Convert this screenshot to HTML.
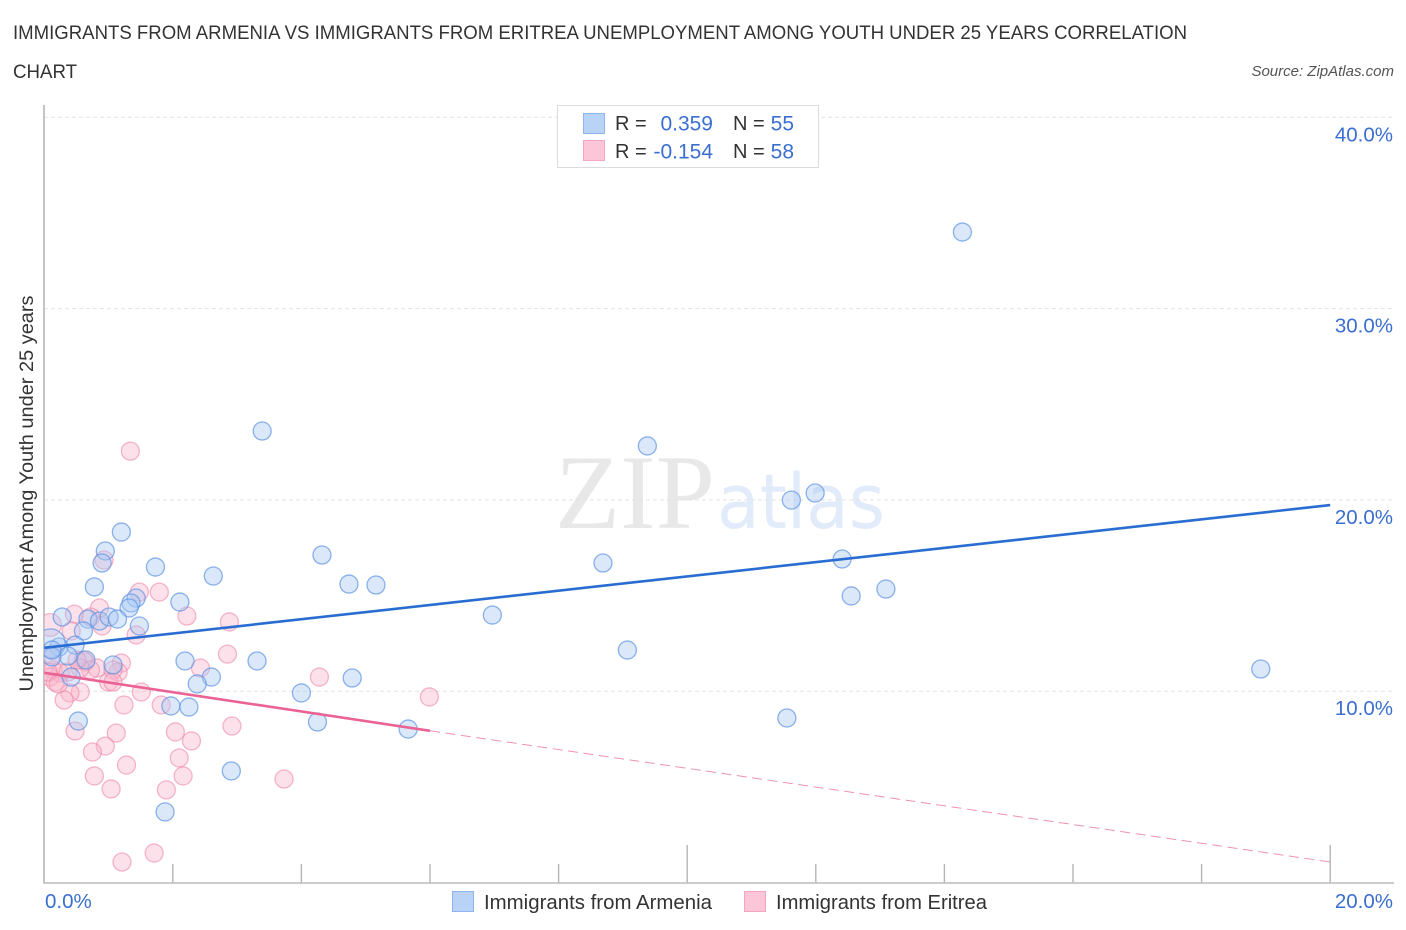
<!DOCTYPE html>
<html lang="en">
<head>
<meta charset="utf-8">
<title>Immigrants from Armenia vs Immigrants from Eritrea Unemployment Correlation Chart</title>
<style>
html,body{margin:0;padding:0;background:#fff;}
svg{display:block;font-family:"Liberation Sans",sans-serif;}
</style>
</head>
<body>
<svg id="chart" xmlns="http://www.w3.org/2000/svg" width="1406" height="930" viewBox="0 0 1406 930">
  <text x="13" y="39" font-size="19.5" fill="#333" textLength="1174" lengthAdjust="spacingAndGlyphs">IMMIGRANTS FROM ARMENIA VS IMMIGRANTS FROM ERITREA UNEMPLOYMENT AMONG YOUTH UNDER 25 YEARS CORRELATION</text>
  <text x="13" y="78" font-size="19.5" fill="#333" textLength="64" lengthAdjust="spacingAndGlyphs">CHART</text>
  <text x="1394" y="76" font-size="15" font-style="italic" fill="#555" text-anchor="end">Source: ZipAtlas.com</text>

  <g>
    <text x="555" y="528" font-family="'Liberation Serif',serif" font-size="106" fill="#e8e8e8" textLength="160" lengthAdjust="spacingAndGlyphs">ZIP</text>
    <text x="717" y="528" font-family="'DejaVu Sans',sans-serif" font-size="76" fill="#e1ebf9" textLength="168" lengthAdjust="spacingAndGlyphs">atlas</text>
  </g>

  <g id="grid"></g>
  <g id="ticks"></g>
  <line x1="44" y1="105" x2="44" y2="883.5" stroke="#b5b5b5" stroke-width="1.6"/>
  <line x1="44" y1="883" x2="1394" y2="883" stroke="#bbbbbb" stroke-width="1.6"/>
  <g id="ylabels"></g>
  <g id="xlabels"></g>
  <text transform="translate(33,493.5) rotate(-90)" font-size="19" fill="#333" text-anchor="middle" textLength="396" lengthAdjust="spacingAndGlyphs">Unemployment Among Youth under 25 years</text>

  <clipPath id="plot-clip"><rect x="44" y="100" width="1362" height="790"/></clipPath>
  <g id="points-eritrea" clip-path="url(#plot-clip)"></g>
  <g id="points-armenia" clip-path="url(#plot-clip)"></g>
  <g id="trends"></g>

  <g>
    <rect x="557.5" y="105.5" width="261" height="62" fill="#fff" stroke="#dcdcdc" stroke-width="1"/>
    <rect x="583.5" y="113.5" width="21" height="20" fill="#b9d3f7" stroke="#8db4ec" stroke-width="1"/>
    <rect x="583.5" y="140.5" width="21" height="20" fill="#fdc5d8" stroke="#f3a6bf" stroke-width="1"/>
    <g font-size="20" fill="#333">
      <text x="615" y="130">R =</text>
      <text x="733" y="130">N =</text>
      <text x="615" y="158">R =</text>
      <text x="733" y="158">N =</text>
    </g>
    <g font-size="21" fill="#3a6fd0">
      <text x="713" y="130.500" text-anchor="end">0.359</text>
      <text x="794" y="130.500" text-anchor="end">55</text>
      <text x="713" y="158.500" text-anchor="end">-0.154</text>
      <text x="794" y="158.500" text-anchor="end">58</text>
    </g>
  </g>

  <g>
    <rect x="452.500" y="891.500" width="21" height="20" fill="#b9d3f7" stroke="#8db4ec" stroke-width="1"/>
    <text x="484" y="909" font-size="20" fill="#333" textLength="228" lengthAdjust="spacingAndGlyphs">Immigrants from Armenia</text>
    <rect x="744.500" y="891.500" width="21" height="20" fill="#fdc5d8" stroke="#f3a6bf" stroke-width="1"/>
    <text x="776" y="909" font-size="20" fill="#333" textLength="211" lengthAdjust="spacingAndGlyphs">Immigrants from Eritrea</text>
  </g>
</svg>
<script>
const yTicks = [10, 20, 30, 40];
const yTickLabels = ["10.0%", "20.0%", "30.0%", "40.0%"];
const xTicks = [0, 2, 4, 6, 8, 10, 12, 14, 16, 18, 20];
const xMajorTicks = [10, 20];
const xTickLabels = ["0.0%", "20.0%"];

const armeniaX = [14.28,3.39,9.38,11.62,11.99,1.20,0.95,0.90,1.73,4.32,2.63,4.74,5.16,8.69,12.41,0.78,12.55,13.09,1.43,1.35,1.32,2.11,6.97,0.28,0.68,0.86,1.01,1.14,1.48,0.61,9.07,0.48,0.23,0.10,0.37,0.12,0.12,18.92,2.19,3.31,0.65,1.07,2.60,2.38,4.79,4.00,0.42,11.55,1.97,2.25,4.25,5.66,0.53,2.91,1.88];
const armeniaY = [34.00,23.60,22.82,19.99,20.36,18.32,17.33,16.70,16.49,17.12,16.02,15.60,15.55,16.70,16.91,15.45,14.98,15.34,14.87,14.61,14.35,14.66,13.98,13.88,13.77,13.67,13.88,13.77,13.41,13.15,12.15,12.41,12.31,12.50,11.84,11.79,12.15,11.16,11.58,11.58,11.63,11.37,10.74,10.38,10.69,9.91,10.74,8.60,9.23,9.17,8.39,8.02,8.44,5.83,3.69];
const armeniaWeight = [1,1,1,1,1,1,1,1,1,1,1,1,1,1,1,1,1,1,1,1,1,1,1,1,1,1,1,1,1,1,1,1,1,2.6,1,1,1,1,1,1,1,1,1,1,1,1,1,1,1,1,1,1,1,1,1];

const eritreaX = [0.93,1.48,1.79,2.22,2.88,0.86,0.47,0.72,0.90,1.43,0.42,0.09,2.85,2.43,1.20,0.64,0.61,0.82,1.15,1.07,0.72,0.56,0.14,0.25,0.09,0.17,1.00,1.07,1.51,0.56,0.40,0.31,1.24,1.82,2.92,0.48,1.12,0.95,0.75,2.04,2.29,2.10,1.28,0.78,2.16,1.04,1.90,3.73,1.71,1.21,1.34,4.28,5.99,0.12,0.06,0.37,0.22,0.51];
const eritreaY = [16.86,15.18,15.18,13.93,13.62,14.35,14.03,13.88,13.41,12.94,13.15,13.46,11.94,11.21,11.47,11.53,11.63,11.21,11.00,11.11,11.11,11.21,11.11,10.95,10.74,10.48,10.48,10.48,9.96,9.96,9.91,9.54,9.28,9.28,8.18,7.92,7.81,7.13,6.82,7.87,7.40,6.51,6.14,5.57,5.57,4.89,4.84,5.41,1.54,1.07,22.55,10.74,9.70,11.89,11.00,11.00,10.38,11.63];
const eritreaWeight = [1,1,1,1,1,1,1,1,1,1,1,1.6,1,1,1,1,1,1,1,1,1,1,1,1,1,1,1,1,1,1,1,1,1,1,1,1,1,1,1,1,1,1,1,1,1,1,1,1,1,1,1,1,1,1,1,1,1,1];

const armeniaTrendX = [0, 20];
const armeniaTrendY = [12.27, 19.73];
const eritreaTrendX = [0, 6];
const eritreaTrendY = [10.96, 7.93];
const eritreaDashX = [6, 20];
const eritreaDashY = [7.93, 1.07];

const NS = "http://www.w3.org/2000/svg";
const sx = v => 44.2 + v * 64.3;
const sy = v => 882.5 - v * 19.13;
const BASE_R = 9;

function make(tag, attrs, parent) {
  const el = document.createElementNS(NS, tag);
  for (const k in attrs) el.setAttribute(k, attrs[k]);
  parent.appendChild(el);
  return el;
}

const gridG = document.getElementById("grid");
yTicks.forEach(function (t) {
  const l = make("line", {x1: 44, x2: 1394, y1: sy(t), y2: sy(t), stroke: "#e2e2e2", "stroke-width": 1, "stroke-dasharray": "4 3"}, gridG);
  
  
});

const ticksG = document.getElementById("ticks");
xTicks.slice(1).forEach(function (t) {
  const tall = xMajorTicks.includes(t);
  const l = make("line", {x1: sx(t), x2: sx(t), y1: 883, y2: tall ? 845 : 864, stroke: "#b5b5b5", "stroke-width": 1.4}, ticksG);
  
  
});

const ylabG = document.getElementById("ylabels");
yTicks.forEach(function (t, i) {
  const el = make("text", {x: 1393, y: sy(t) + 24, "font-size": 20.5, fill: "#3a6fd0", "text-anchor": "end"}, ylabG);
  el.textContent = yTickLabels[i];
  
  
});

const xlabG = document.getElementById("xlabels");
const xl0 = make("text", {x: 45, y: 908, "font-size": 20.5, fill: "#3a6fd0"}, xlabG);
xl0.textContent = xTickLabels[0];


const xl1 = make("text", {x: 1393, y: 908, "font-size": 20.5, fill: "#3a6fd0", "text-anchor": "end"}, xlabG);
xl1.textContent = xTickLabels[1];



const eritreaG = document.getElementById("points-eritrea");
eritreaX.forEach(function (x, i) {
  const c = make("circle", {cx: sx(x), cy: sy(eritreaY[i]), r: BASE_R * Math.sqrt(eritreaWeight[i]), fill: "#f9b4cb", "fill-opacity": 0.4, stroke: "#ee87a9", "stroke-opacity": 0.6, "stroke-width": 1.3}, eritreaG);
  
  
});

const armeniaG = document.getElementById("points-armenia");
armeniaX.forEach(function (x, i) {
  const c = make("circle", {cx: sx(x), cy: sy(armeniaY[i]), r: BASE_R * Math.sqrt(armeniaWeight[i]), fill: "#a9c9f3", "fill-opacity": 0.42, stroke: "#5c93e2", "stroke-opacity": 0.7, "stroke-width": 1.3}, armeniaG);
  
  
});

const trendsG = document.getElementById("trends");
const t1 = make("line", {x1: sx(armeniaTrendX[0]), y1: sy(armeniaTrendY[0]), x2: sx(armeniaTrendX[1]), y2: sy(armeniaTrendY[1]), stroke: "#2a6dd2", "stroke-width": 2.6}, trendsG);


const t2 = make("line", {x1: sx(eritreaTrendX[0]), y1: sy(eritreaTrendY[0]), x2: sx(eritreaTrendX[1]), y2: sy(eritreaTrendY[1]), stroke: "#ea6394", "stroke-width": 2.6}, trendsG);


const t3 = make("line", {x1: sx(eritreaDashX[0]), y1: sy(eritreaDashY[0]), x2: sx(eritreaDashX[1]), y2: sy(eritreaDashY[1]), stroke: "#ea6394", "stroke-opacity": 0.7, "stroke-width": 1, "stroke-dasharray": "10 5.500"}, trendsG);


</script>
</body>
</html>
